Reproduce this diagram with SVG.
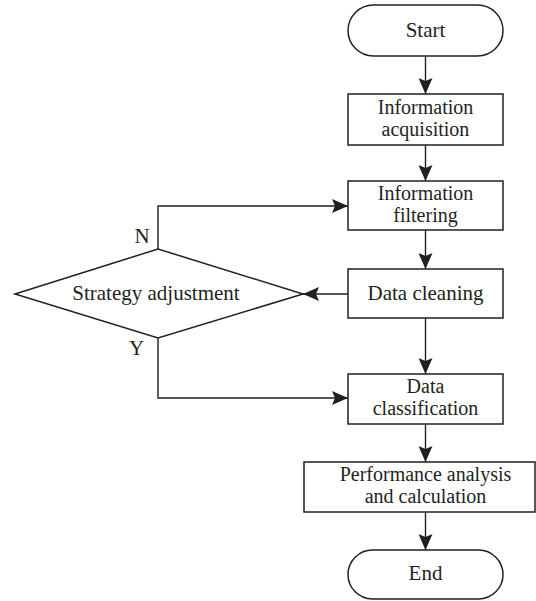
<svg xmlns="http://www.w3.org/2000/svg" width="536" height="601" viewBox="0 0 536 601">
<defs>
<style>
.shape{fill:#ffffff;stroke:#231f20;stroke-width:1.5}
.conn{fill:none;stroke:#231f20;stroke-width:1.4}
text{font-family:"Liberation Serif","Times New Roman",serif;font-size:20px;fill:#231f20;text-anchor:middle}
.big{font-size:21px}
</style>
<marker id="arrow" markerUnits="userSpaceOnUse" markerWidth="16" markerHeight="14" refX="16" refY="7" orient="auto">
<path d="M0,0 L16,7 L0,14 L3,7 z" fill="#231f20"/>
</marker>
</defs>
<rect width="536" height="601" fill="#ffffff"/>
<g id="connectors">
<line class="conn" x1="425.5" y1="56" x2="425.5" y2="94" marker-end="url(#arrow)"/>
<line class="conn" x1="425.5" y1="145" x2="425.5" y2="181" marker-end="url(#arrow)"/>
<line class="conn" x1="425.5" y1="230" x2="425.5" y2="269" marker-end="url(#arrow)"/>
<line class="conn" x1="348" y1="294" x2="303" y2="294" marker-end="url(#arrow)"/>
<line class="conn" x1="425.5" y1="318" x2="425.5" y2="374" marker-end="url(#arrow)"/>
<polyline class="conn" points="158,249 158,206 348,206" marker-end="url(#arrow)"/>
<polyline class="conn" points="158,338 158,398 348,398" marker-end="url(#arrow)"/>
<line class="conn" x1="425.5" y1="424" x2="425.5" y2="462" marker-end="url(#arrow)"/>
<line class="conn" x1="425.5" y1="512" x2="425.5" y2="550" marker-end="url(#arrow)"/>
<text class="big" x="142" y="243">N</text>
<text class="big" x="136.5" y="355">Y</text>
</g>
<g id="start">
<rect class="shape" x="348" y="5" width="155" height="51" rx="25.5" ry="25.5"/>
<text class="big" x="425.5" y="37">Start</text>
</g>
<g id="acquisition">
<rect class="shape" x="348" y="94" width="155" height="51"/>
<text x="425.5" y="114">Information</text>
<text x="425.5" y="136">acquisition</text>
</g>
<g id="filtering">
<rect class="shape" x="348" y="181" width="155" height="49"/>
<text x="425.5" y="200">Information</text>
<text x="425.5" y="222">filtering</text>
</g>
<g id="cleaning">
<rect class="shape" x="348" y="269" width="155" height="49"/>
<text class="big" x="425.5" y="300">Data cleaning</text>
</g>
<g id="strategy">
<polygon class="shape" points="15,294 158,249 303,294 158,338"/>
<text class="big" x="156" y="300">Strategy adjustment</text>
</g>
<g id="classification">
<rect class="shape" x="348" y="374" width="155" height="50"/>
<text x="425.5" y="393">Data</text>
<text x="425.5" y="415">classification</text>
</g>
<g id="performance">
<rect class="shape" x="304" y="462" width="231" height="50"/>
<text x="425.5" y="481">Performance analysis</text>
<text x="425.5" y="503">and calculation</text>
</g>
<g id="end">
<rect class="shape" x="348" y="550" width="155" height="49" rx="24.5" ry="24.5"/>
<text class="big" x="425.5" y="580">End</text>
</g>
</svg>
